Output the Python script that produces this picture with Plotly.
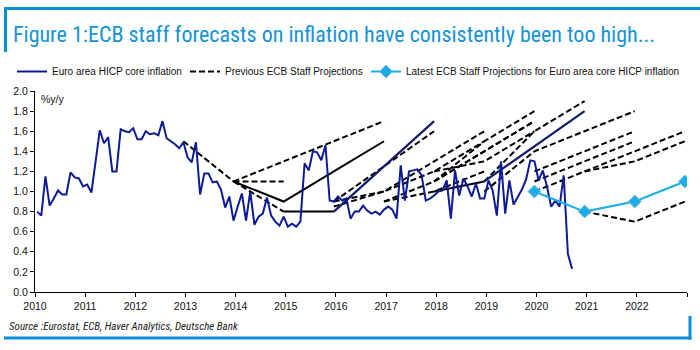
import plotly.graph_objects as go

# ---------------- data ----------------
core_start_year = 2010
core_values = [
    0.80, 0.76, 1.15, 0.86, 0.93, 1.01, 0.97, 0.97, 1.19, 1.14, 1.13, 1.05,
    1.07, 0.99, 1.30, 1.61, 1.48, 1.54, 1.20, 1.20, 1.62, 1.60, 1.59, 1.63,
    1.52, 1.52, 1.60, 1.57, 1.58, 1.56, 1.70, 1.53, 1.50, 1.47, 1.43, 1.49,
    1.34, 1.29, 1.49, 0.97, 1.18, 1.18, 1.09, 1.10, 1.02, 0.84, 0.95, 0.71,
    0.85, 0.98, 0.71, 1.00, 0.67, 0.75, 0.78, 0.94, 0.76, 0.70, 0.66, 0.75,
    0.65, 0.68, 0.65, 0.70, 1.28, 1.21, 1.40, 1.39, 1.31, 1.46, 0.91, 0.90,
    0.95, 0.91, 0.93, 0.73, 0.80, 0.80, 0.86, 0.81, 0.78, 0.80, 0.77, 0.82,
    0.85, 0.82, 0.73, 1.26, 0.91, 1.20, 1.21, 1.22, 1.16, 0.91, 0.93, 0.96,
    1.00, 1.01, 1.11, 0.73, 1.21, 0.96, 1.13, 1.05, 0.95, 1.08, 0.93, 0.93,
    1.11, 1.01, 0.76, 1.30, 0.78, 1.11, 0.87, 0.95, 1.02, 1.12, 1.31, 1.30,
    1.11, 1.21, 1.05, 0.85, 0.91, 0.85, 1.16, 0.38, 0.23,
]

# previous projections (dashed): years, then annual values
prev_01_years, prev_01 = [2012, 2013], [1.5, 1.1]
prev_02_years, prev_02 = [2013, 2014, 2015, 2016], [1.1, 1.3, 1.5, 1.7]
prev_03_years, prev_03 = [2013, 2014], [1.1, 1.1]
prev_04_years, prev_04 = [2013, 2014], [1.1, 0.8]
prev_05_years, prev_05 = [2015, 2016, 2017], [0.9, 1.25, 1.6]
prev_06_years, prev_06 = [2015, 2016, 2017, 2018], [0.9, 1.0, 1.3, 1.6]
prev_07_years, prev_07 = [2015, 2016, 2017, 2018], [0.85, 1.0, 1.2, 1.5]
prev_08_years, prev_08 = [2016, 2017, 2018, 2019], [0.9, 1.1, 1.4, 1.7]
prev_09_years, prev_09 = [2016, 2017, 2018], [0.9, 1.0, 1.2]
prev_10_years, prev_10 = [2017, 2018, 2019], [1.1, 1.5, 1.8]
prev_11_years, prev_11 = [2017, 2018, 2019], [1.1, 1.4, 1.7]
prev_12_years, prev_12 = [2017, 2018, 2019], [1.2, 1.3, 1.6]
prev_13_years, prev_13 = [2018, 2019, 2020], [1.1, 1.6, 1.9]
prev_14_years, prev_14 = [2018, 2019, 2020, 2021], [1.0, 1.4, 1.6, 1.8]
prev_15_years, prev_15 = [2019, 2020, 2021], [1.2, 1.4, 1.6]
prev_16_years, prev_16 = [2019, 2020, 2021], [1.1, 1.3, 1.5]
prev_17_years, prev_17 = [2019, 2020, 2021, 2022], [1.0, 1.2, 1.4, 1.6]
prev_18_years, prev_18 = [2020, 2021, 2022], [1.2, 1.3, 1.5]
prev_19_years, prev_19 = [2020, 2021, 2022], [0.8, 0.7, 0.9]

# previous projections drawn solid
solid_01_years, solid_01 = [2013, 2014, 2015, 2016], [1.1, 0.9, 1.2, 1.5]
solid_02_years, solid_02 = [2014, 2015], [0.8, 0.8]
solid_03_years, solid_03 = [2017, 2018], [1.0, 1.1]
rise_01_years, rise_01 = [2015, 2016, 2017], [0.8, 1.25, 1.7]
rise_02_years, rise_02 = [2018, 2019, 2020], [1.1, 1.45, 1.8]

# latest projection
latest_years = [2019, 2020, 2021, 2022]
latest_values = [1.0, 0.8, 0.9, 1.1]

year_ticks = list(range(2010, 2024))
year_labels = [str(y) for y in range(2010, 2023)] + [""]

# ---------------- layout constants ----------------
W, H = 700, 350
ML, MR, MT, MB = 35, 13, 91, 58
PW, PH = W - ML - MR, H - MT - MB
BLUE = "#0a8fd6"
NAVY = "#0d1b96"
FONT = "Liberation Sans, Arial, sans-serif"
NARROW = "Liberation Sans Narrow, Roboto Condensed, Arial Narrow, sans-serif"


def px_x(px):
    return (px - ML) / PW


def px_y(py):
    return (H - MB - py) / PH


def annual_x(years):
    # annual values placed at mid-December of each year
    return [y + 11.5 / 12 for y in years]


def join(pairs):
    xs, ys = [], []
    for yrs, vals in pairs:
        xs += annual_x(yrs) + [None]
        ys += list(vals) + [None]
    return xs, ys


core_x = [core_start_year + (i + 0.5) / 12 for i in range(len(core_values))]

dash_x, dash_y = join([
    (prev_01_years, prev_01), (prev_02_years, prev_02), (prev_03_years, prev_03),
    (prev_04_years, prev_04), (prev_05_years, prev_05), (prev_06_years, prev_06),
    (prev_07_years, prev_07), (prev_08_years, prev_08), (prev_09_years, prev_09),
    (prev_10_years, prev_10), (prev_11_years, prev_11), (prev_12_years, prev_12),
    (prev_13_years, prev_13), (prev_14_years, prev_14), (prev_15_years, prev_15),
    (prev_16_years, prev_16), (prev_17_years, prev_17), (prev_18_years, prev_18),
    (prev_19_years, prev_19),
])
solid_x, solid_y = join([(solid_01_years, solid_01), (solid_02_years, solid_02),
                         (solid_03_years, solid_03)])
rise_x, rise_y = join([(rise_01_years, rise_01), (rise_02_years, rise_02)])

fig = go.Figure()
fig.add_trace(go.Scatter(
    x=dash_x, y=dash_y, mode="lines", name="Previous ECB Staff Projections",
    line=dict(color="black", width=2, dash="6px,3px"), legend="legend2",
    connectgaps=False))
fig.add_trace(go.Scatter(
    x=solid_x, y=solid_y, mode="lines", showlegend=False,
    line=dict(color="black", width=2), connectgaps=False))
fig.add_trace(go.Scatter(
    x=rise_x, y=rise_y, mode="lines", showlegend=False,
    line=dict(color="#141a6e", width=2.2), connectgaps=False))
fig.add_trace(go.Scatter(
    x=core_x, y=core_values, mode="lines", name="Euro area HICP core inflation",
    line=dict(color=NAVY, width=2), legend="legend"))
fig.add_trace(go.Scatter(
    x=annual_x(latest_years), y=latest_values, mode="lines+markers",
    name="Latest ECB Staff Projections for Euro area core HICP inflation",
    line=dict(color="#19aee8", width=2),
    marker=dict(symbol="diamond", size=10, color="#19aee8",
                line=dict(color="#8ab8cc", width=1)),
    legend="legend3"))

axis_common = dict(showline=True, linecolor="black", linewidth=1, ticks="outside",
                   ticklen=4, tickcolor="black", tickwidth=1, showgrid=False,
                   zeroline=False, tickfont=dict(family=FONT, size=10.5, color="#111"))
fig.update_xaxes(range=[2010, 2023], tickvals=year_ticks, ticktext=year_labels,
                 automargin=False, **axis_common)
fig.update_yaxes(range=[0, 2.0], dtick=0.2, tick0=0, tickformat=".1f",
                 automargin=False, **axis_common)

shapes = []
for (x0, y0, x1, y1) in [(4, 8.5, 700, 8.5), (5.5, 7, 5.5, 52),
                         (4, 338, 691.5, 338), (690, 316, 690, 339.5)]:
    shapes.append(dict(type="line", xref="paper", yref="paper",
                       x0=px_x(x0), y0=px_y(y0), x1=px_x(x1), y1=px_y(y1),
                       line=dict(color=BLUE, width=3)))


def legend_box(px_left):
    return dict(orientation="h", x=px_left / W, xanchor="left", xref="container",
                y=1 - 57 / H, yanchor="top", yref="container",
                font=dict(family=FONT, size=10, color="#111"),
                bgcolor="rgba(0,0,0,0)", itemwidth=30)


fig.update_layout(
    width=W, height=H, autosize=False,
    margin=dict(l=ML, r=MR, t=MT, b=MB, pad=0, autoexpand=False),
    paper_bgcolor="white", plot_bgcolor="white",
    font=dict(family=FONT, size=10.5, color="#111"),
    title=dict(text="Figure 1:ECB staff forecasts on inflation have consistently been too high...",
               font=dict(family=NARROW, size=22, color="#1493d6"),
               x=13 / W, xanchor="left", xref="container",
               y=1 - 34 / H, yanchor="middle", yref="container"),
    legend=legend_box(12),
    legend2=legend_box(185),
    legend3=legend_box(366),
    shapes=shapes,
    annotations=[
        dict(text="%y/y", xref="paper", yref="paper", x=px_x(39), y=px_y(99),
             xanchor="left", yanchor="middle", showarrow=False,
             font=dict(family=FONT, size=10.5, color="#111")),
        dict(text="<i>Source :Eurostat, ECB, Haver Analytics, Deutsche Bank</i>",
             xref="paper", yref="paper", x=px_x(7), y=px_y(326),
             xanchor="left", yanchor="middle", showarrow=False,
             font=dict(family=NARROW, size=11, color="#222")),
    ],
)

fig.write_html("out.html")
